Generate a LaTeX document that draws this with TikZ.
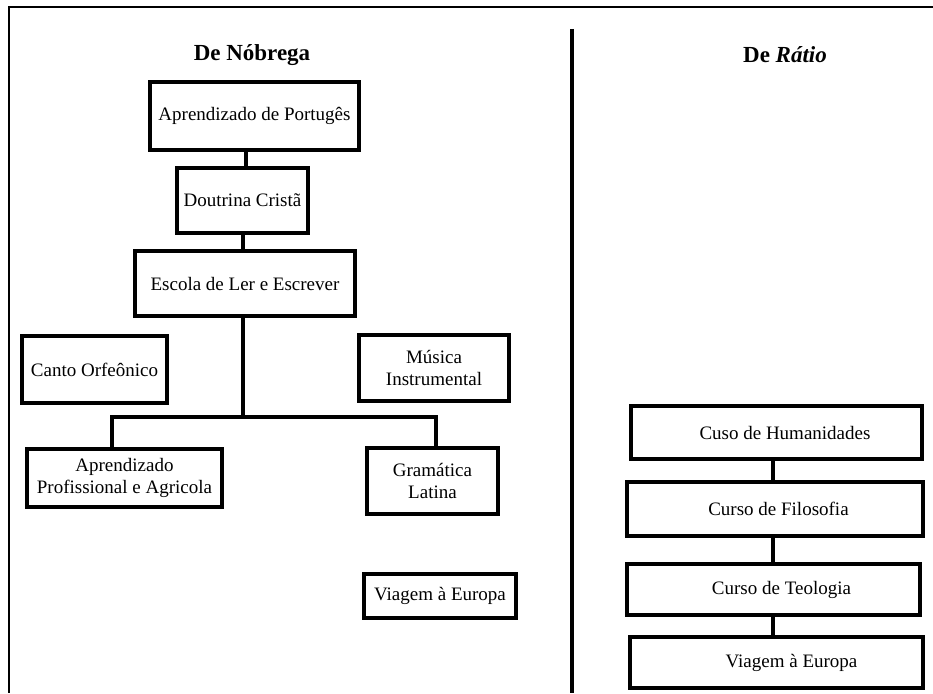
\documentclass[tikz,border=0pt]{standalone}
\usepackage{fontspec}
\setmainfont{Liberation Serif}
\begin{document}
\begin{tikzpicture}[x=1pt,y=-1pt,
  box/.style={draw=black,line width=3.6pt,rectangle,inner sep=0pt,align=center,
    font=\fontsize{19}{22}\selectfont},
  conn/.style={draw=black,line width=3.4pt},
  frameline/.style={draw=black,line width=2.8pt},
  title/.style={font=\fontsize{23}{26}\selectfont\bfseries}]
\useasboundingbox (0,0) rectangle (933,693);
% frame and divider
\coordinate (ftl) at (9,7);
\coordinate (ftr) at (933,7);
\coordinate (fbl) at (9,693);
\coordinate (dvt) at (572,29);
\coordinate (dvb) at (572,693);
\draw[frameline] (ftr) -- (ftl) -- (fbl);
\draw[draw=black,line width=3.5pt] (dvt) -- (dvb);
% titles
\node[title] (t1) at (252,55) {De Nóbrega};
\node[title] (t2) at (785,55) {De \textit{Rátio}};
% left boxes
\node[box,minimum width=209pt,minimum height=68pt] (port) at (254.5,116) {Aprendizado de Portugês};
\node[box,minimum width=131pt,minimum height=65pt] (dout) at (242.5,200.5) {Doutrina Cristã};
\node[box,minimum width=220pt,minimum height=65pt] (esc) at (245,283.5) {Escola de Ler e Escrever};
\node[box,minimum width=145pt,minimum height=67pt] (canto) at (94.5,369.5) {Canto Orfeônico};
\node[box,minimum width=150pt,minimum height=66pt] (musica) at (434,368) {Música\\Instrumental};
\node[box,minimum width=195pt,minimum height=58pt] (aprend) at (124.5,478) {Aprendizado\\Profissional e Agricola};
\node[box,minimum width=131pt,minimum height=66pt] (gram) at (432.5,481) {Gramática\\Latina};
\node[box,minimum width=152pt,minimum height=44pt] (viagL) at (440,596) {Viagem à Europa};
% right boxes
\node[box,minimum width=291pt,minimum height=53pt] (hum) at (776.5,432.5) {\hspace*{17pt}Cuso de Humanidades};
\node[box,minimum width=296pt,minimum height=54pt] (filo) at (775,509) {\hspace*{7pt}Curso de Filosofia};
\node[box,minimum width=293pt,minimum height=51pt] (teo) at (773.5,589.5) {\hspace*{16pt}Curso de Teologia};
\node[box,minimum width=293pt,minimum height=51pt] (viagR) at (776.5,662.5) {\hspace*{30pt}Viagem à Europa};
% connector guide coordinates
\coordinate (xa) at (246,0);
\coordinate (xb) at (243,0);
\coordinate (jc) at (243,417);
\coordinate (jl) at (112,417);
\coordinate (jr) at (436,417);
\coordinate (xr) at (773,0);
% left connectors
\draw[conn] (port.south -| xa) -- (dout.north -| xa);
\draw[conn] (dout.south -| xb) -- (esc.north -| xb);
\draw[conn] (esc.south -| xb) -- (jc);
\draw[conn] (aprend.north -| jl) -- (jl) -- (jr) -- (gram.north -| jr);
% right connectors
\draw[conn] (hum.south -| xr) -- (filo.north -| xr);
\draw[conn] (filo.south -| xr) -- (teo.north -| xr);
\draw[conn] (teo.south -| xr) -- (viagR.north -| xr);
\end{tikzpicture}
\end{document}
